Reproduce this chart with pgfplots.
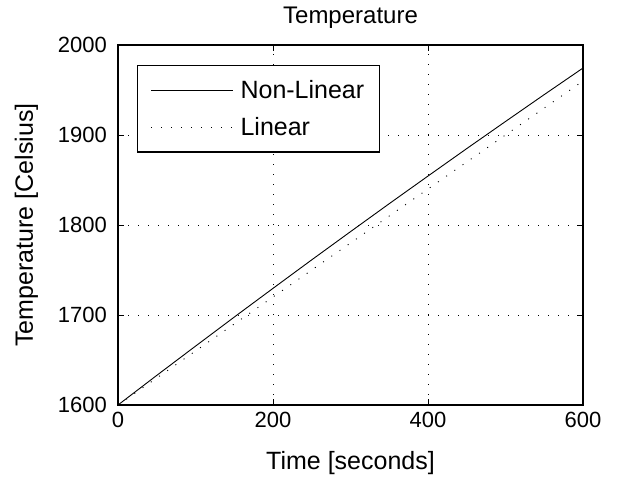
\documentclass[border=0pt]{standalone}
\usepackage{pgfplots}
\pgfplotsset{compat=1.18}
\usepackage{fontspec}
\setmainfont{Liberation Sans}
\begin{document}
\begin{tikzpicture}[x=1pt,y=1pt]
\useasboundingbox (0,0) rectangle (620,481);
\begin{axis}[
  at={(118pt,76pt)}, anchor=south west,
  scale only axis, width=465pt, height=360pt,
  xmin=0, xmax=600, ymin=1600, ymax=2000,
  xtick={0,200,400,600}, ytick={1600,1700,1800,1900,2000},
  tick align=inside, major tick length=6pt,
  tick style={black, line width=0.8pt},
  axis line style={line width=1.2pt},
  grid=major,
  grid style={black, line width=0.9pt, dash pattern=on 1pt off 9pt},
  /pgf/number format/assume math mode=true,
  /pgf/number format/1000 sep={},
  ticklabel style={font=\fontsize{22}{24}\selectfont},
  xticklabel style={yshift=-3.7pt},
  yticklabel style={xshift=-7.7pt},
  title style={font=\fontsize{24}{26}\selectfont, at={(axis description cs:0.5,1.0611)}, anchor=base, yshift=-6pt},
  title={Temperature},
  xlabel={Time [seconds]},
  ylabel={Temperature [Celsius]},
  xlabel style={font=\fontsize{25}{27}\selectfont, at={(axis description cs:0.5,-0.1778)}, anchor=base},
  ylabel style={font=\fontsize{25}{27}\selectfont, at={(axis description cs:-0.1828,0.5)}, anchor=base},
  legend cell align=left,
  legend image code/.code={\draw[#1] (0pt,0pt) -- (82pt,0pt);},
  legend style={at={(axis description cs:0.041,0.944)}, anchor=north west,
    draw=black, line width=1.2pt, font=\fontsize{25}{27}\selectfont,
    inner xsep=13pt, inner ysep=12.5pt, row sep=14pt, column sep=5pt,
    nodes={inner sep=2pt}},
]
\addplot[black, line width=0.9pt] coordinates {
(0,1600) (50,1632.9) (100,1665.4) (150,1697.7) (200,1729.6) (250,1761.3)
(300,1792.6) (350,1823.7) (400,1854.4) (450,1884.9) (500,1915) (550,1944.9) (600,1974.4)
};
\addlegendentry{Non-Linear}
\addplot[black, line width=0.9pt, dash pattern=on 1pt off 9pt] coordinates {
(0,1600) (600,1960)
};
\addlegendentry{Linear}
\end{axis}
\end{tikzpicture}
\end{document}
